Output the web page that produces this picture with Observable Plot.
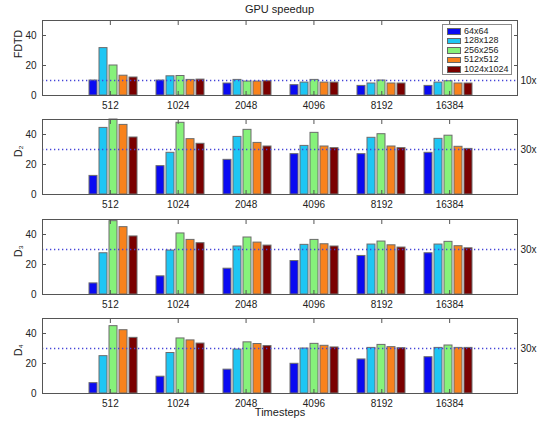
<!DOCTYPE html>
<html>
<head>
<meta charset="utf-8">
<script src="https://cdn.jsdelivr.net/npm/d3@7"></script>
<script src="https://cdn.jsdelivr.net/npm/@observablehq/plot@0.6"></script>
<style>
  body { margin: 0; background: #fff; font-family: "Liberation Sans", Arial, sans-serif; }
  #chart { position: relative; width: 543px; height: 427px; overflow: hidden; background: #fff; }
  .title { position: absolute; left: 42px; width: 475px; top: 3px; line-height: 12px; text-align: center; font-size: 11px; color: #222; }
  .panel { position: absolute; left: 0; width: 543px; }
  .panel svg { position: absolute; left: 0; top: 0; overflow: visible; }
  .legend { position: absolute; left: 442px; top: 24px; width: 70px; height: 51px; border: 1px solid #8a8a8a; background: #fff; box-sizing: border-box; padding-top: 1.5px; z-index: 5; }
  .legend .row { position: relative; height: 9.5px; line-height: 9.5px; font-size: 9px; color: #222; white-space: nowrap; }
  .legend .sw { position: absolute; left: 4px; top: 1.5px; width: 14px; height: 6.5px; border: 1px solid #666; box-sizing: border-box; }
  .legend .lb { position: absolute; left: 21px; top: 0; }
</style>
</head>
<body>
<div id="chart"></div>
<script>
// ---------- data ----------
const title = "GPU speedup";
const xLabel = "Timesteps";
const timesteps = ["512", "1024", "2048", "4096", "8192", "16384"];
const sizes = ["64x64", "128x128", "256x256", "512x512", "1024x1024"];
const panelNames = ["FDTD", "D₂", "D₃", "D₄"];
// rows = timesteps, columns = sizes
const fdtd = [
  [10.0, 31.6, 20.0, 13.2, 12.0],
  [10.0, 12.8, 13.0, 10.4, 10.6],
  [8.0, 10.4, 9.3, 9.3, 9.5],
  [6.9, 8.6, 10.4, 8.6, 8.6],
  [6.4, 8.0, 10.0, 8.0, 8.0],
  [6.4, 8.6, 9.5, 8.0, 8.0]
];
const d2 = [
  [12.4, 44.4, 50.0, 46.4, 38.0],
  [18.9, 27.8, 47.8, 36.9, 33.8],
  [23.1, 38.4, 43.1, 34.4, 32.0],
  [26.9, 32.4, 41.1, 32.0, 30.9],
  [26.9, 37.8, 40.2, 32.0, 30.9],
  [27.8, 37.1, 39.2, 31.8, 30.4]
];
const d3 = [
  [7.4, 27.5, 48.9, 44.9, 38.7],
  [12.1, 29.3, 40.7, 36.4, 34.2],
  [17.2, 32.0, 38.0, 34.6, 32.6],
  [22.3, 33.1, 36.4, 33.5, 32.0],
  [25.7, 33.3, 35.3, 32.8, 31.3],
  [27.5, 33.3, 35.1, 32.2, 30.8]
];
const d4 = [
  [6.9, 24.9, 44.9, 42.2, 37.1],
  [11.2, 27.0, 36.7, 35.4, 33.3],
  [15.9, 29.3, 34.1, 33.0, 31.6],
  [19.8, 30.0, 33.1, 31.8, 30.7],
  [22.7, 30.4, 32.4, 30.9, 30.2],
  [24.2, 30.4, 32.0, 30.4, 30.4]
];
const panelValues = [fdtd, d2, d3, d4];
const refLevels = [10, 30, 30, 30];
const refLabels = ["10x", "30x", "30x", "30x"];
const yDomain = [0, 50];
const yTicks = [0, 20, 40];

// ---------- style ----------
const colors = ["#0a0af2", "#1ec6f4", "#86f27a", "#f8821c", "#7a0000"];
const FONT = "'Liberation Sans', Arial, sans-serif";
const W = 543, ML = 42, MR = 26, MT = 1, PH = 75;
const panelTops = [19, 118, 218, 317];

const chart = document.getElementById("chart");
const t = document.createElement("div");
t.className = "title";
t.textContent = title;
chart.appendChild(t);

const xTickPos = timesteps.map((_, i) => i + 1);

panelNames.forEach((name, k) => {
  const last = k === panelNames.length - 1;
  const MB = last ? 34 : 24;
  const H = MT + PH + MB;
  const rows = [];
  panelValues[k].forEach((vals, i) => vals.forEach((v, j) => rows.push({timestep: timesteps[i], size: sizes[j], value: v})));

  const div = document.createElement("div");
  div.className = "panel";
  div.style.top = panelTops[k] + "px";
  div.style.height = H + "px";

  const bars = Plot.plot({
    width: W, height: H,
    marginLeft: ML, marginRight: MR, marginTop: MT, marginBottom: MB,
    style: {background: "transparent", overflow: "visible"},
    facet: {data: rows, x: "timestep"},
    fx: {domain: timesteps, paddingInner: 0, paddingOuter: 0.5, axis: null, label: null},
    x: {domain: sizes, paddingInner: 0.22, paddingOuter: 0.9, axis: null},
    y: {domain: yDomain, axis: null},
    color: {domain: sizes, range: colors},
    marks: [
      Plot.barY(rows, {x: "size", y: "value", fill: "size", stroke: "#6c6c6c", strokeWidth: 1})
    ]
  });

  const marks = [
    Plot.ruleY([refLevels[k]], {stroke: "#4444d8", strokeWidth: 1.3, strokeDasharray: "1.3,2.7"}),
    Plot.frame({stroke: "#555"}),
    Plot.axisY({anchor: "left", ticks: yTicks, tickSize: -4, tickPadding: 10, label: null, stroke: "#555"}),
    Plot.axisY({anchor: "right", ticks: yTicks, tickSize: -4, tickFormat: () => "", label: null, stroke: "#555"}),
    Plot.axisX({anchor: "bottom", ticks: xTickPos, tickFormat: i => timesteps[i - 1], tickSize: -4, tickPadding: 10, label: null, stroke: "#555"}),
    Plot.axisX({anchor: "top", ticks: xTickPos, tickFormat: () => "", tickSize: -4, label: null, stroke: "#555"}),
    Plot.text([{label: refLabels[k], level: refLevels[k]}], {frameAnchor: "right", y: "level", text: "label", textAnchor: "start", dx: 3, fontSize: 10}),
    Plot.text([name], {frameAnchor: "left", text: d => d, rotate: -90, dx: -24, fontSize: 10.5})
  ];
  if (last) marks.push(Plot.text([xLabel], {frameAnchor: "bottom", text: d => d, dy: 22, fontSize: 11}));

  const base = Plot.plot({
    width: W, height: H,
    marginLeft: ML, marginRight: MR, marginTop: MT, marginBottom: MB,
    style: {background: "transparent", overflow: "visible", fontSize: "10px", fontFamily: FONT, color: "#222"},
    x: {domain: [0, timesteps.length + 1]},
    y: {domain: yDomain},
    marks
  });

  div.appendChild(bars);
  div.appendChild(base);
  chart.appendChild(div);

  if (k === 0) {
    const lg = document.createElement("div");
    lg.className = "legend";
    sizes.forEach((s, j) => {
      const r = document.createElement("div");
      r.className = "row";
      const sw = document.createElement("span");
      sw.className = "sw";
      sw.style.background = colors[j];
      const lb = document.createElement("span");
      lb.className = "lb";
      lb.textContent = s;
      r.appendChild(sw); r.appendChild(lb);
      lg.appendChild(r);
    });
    chart.appendChild(lg);
  }
});
</script>
</body>
</html>
